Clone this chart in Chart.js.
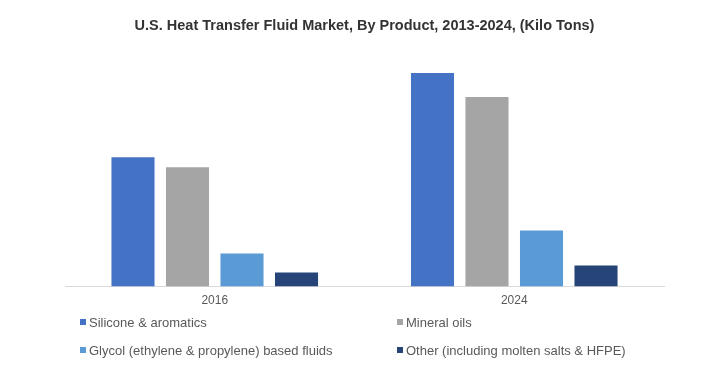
<!DOCTYPE html>
<html>
<head>
<meta charset="utf-8">
<script src="https://cdn.jsdelivr.net/npm/chart.js@4/dist/chart.umd.min.js"></script>
<style>
  body { margin: 0; background: #fff; font-family: "Liberation Sans", Arial, sans-serif; }
  #wrap { position: relative; width: 701px; height: 388px; }
  #title { position: absolute; top: 17px; left: 14px; width: 701px; text-align: center;
           font-weight: bold; font-size: 14.5px; color: #333; }
  #chartBox { position: absolute; left: 0; top: 0; width: 701px; height: 388px; }
  .leg { position: absolute; font-size: 13px; color: #595959; white-space: nowrap; line-height: 16px; }
  .leg span { display: inline-block; width: 6px; height: 6px; margin-right: 3px; vertical-align: 2px; }
</style>
</head>
<body>
<div id="wrap">
  <div id="chartBox"><canvas id="c"></canvas></div>
  <div id="title">U.S. Heat Transfer Fluid Market, By Product, 2013-2024, (Kilo Tons)</div>
  <div id="legend"></div>
</div>
<script>
// categories and series
const years = ['2016', '2024'];
const seriesNames = ['Silicone & aromatics', 'Mineral oils', 'Glycol (ethylene & propylene) based fluids', 'Other (including molten salts & HFPE)'];
const silicone = [129, 213];
const mineral = [119, 189];
const glycol = [33, 56];
const other = [14, 21];
const colors = ['#4472C4', '#A5A5A5', '#5B9BD5', '#264478'];

const seriesData = [silicone, mineral, glycol, other];

new Chart(document.getElementById('c'), {
    type: 'bar',
    data: {
        labels: years,
        datasets: seriesData.map((vals, i) => ({
            label: seriesNames[i],
            data: vals,
            backgroundColor: colors[i],
            categoryPercentage: 0.728,
            barPercentage: 0.79
        }))
    },
    options: {
        responsive: true,
        maintainAspectRatio: false,
        animation: false,
        layout: { padding: { left: 65, right: 37, top: 56, bottom: 73 } },
        plugins: { legend: { display: false }, title: { display: false }, tooltip: { enabled: false } },
        scales: {
            x: {
                grid: { display: false, drawTicks: false },
                border: { display: true, color: '#D9D9D9', width: 1 },
                ticks: { color: '#595959', font: { family: 'Liberation Sans', size: 12 }, padding: 7 }
            },
            y: { display: false, min: 0, max: 230 }
        }
    }
});

// legend in two columns, built from the series arrays
const legendPos = [[80, 315], [397, 315], [80, 343], [397, 343]];
const legendDiv = document.getElementById('legend');
seriesNames.forEach((name, i) => {
    const d = document.createElement('div');
    d.className = 'leg';
    d.style.left = legendPos[i][0] + 'px';
    d.style.top = legendPos[i][1] + 'px';
    d.innerHTML = '<span style="background:' + colors[i] + '"></span>' + name;
    legendDiv.appendChild(d);
});
</script>
</body>
</html>
